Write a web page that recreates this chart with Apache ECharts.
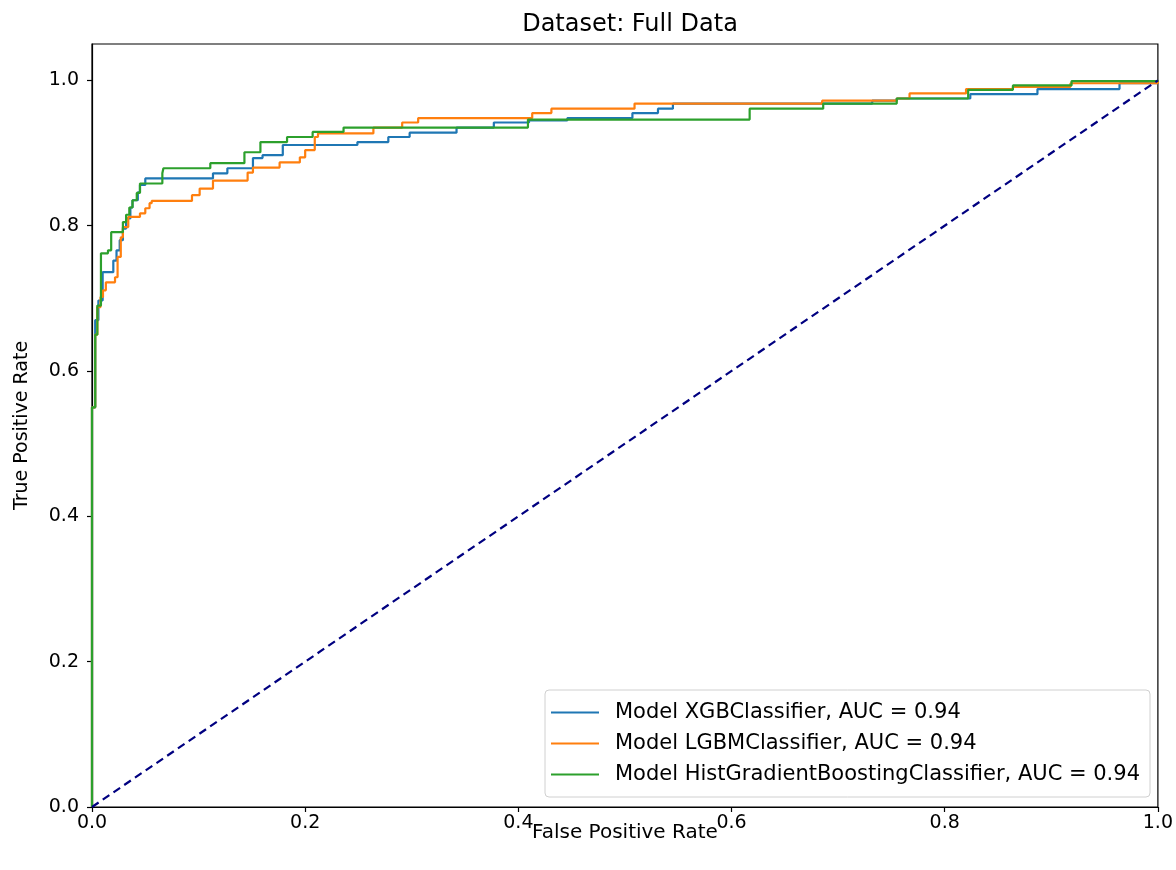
<!DOCTYPE html>
<html>
<head>
<meta charset="utf-8">
<script src="https://cdn.jsdelivr.net/npm/echarts@6/dist/echarts.min.js"></script>
<style>
html,body{margin:0;padding:0;background:#fff;}
#chart{width:1176px;height:870px;}
</style>
</head>
<body>
<div id="chart"></div>
<script>
var chartTitle = 'Dataset: Full Data';
var xAxisName = 'False Positive Rate';
var yAxisName = 'True Positive Rate';
var tickValues = [0, 0.2, 0.4, 0.6, 0.8, 1.0];
var seriesNames = ['Model XGBClassifier, AUC = 0.94', 'Model LGBMClassifier, AUC = 0.94', 'Model HistGradientBoostingClassifier, AUC = 0.94'];

var xgbFpr = [0, 0, 0.003, 0.006, 0.010, 0.020, 0.023, 0.026, 0.029, 0.032, 0.036, 0.038, 0.043, 0.045, 0.050, 0.1135, 0.127, 0.151, 0.160, 0.179, 0.249, 0.278, 0.298, 0.342, 0.377, 0.410, 0.446, 0.507, 0.531, 0.545, 0.732, 0.755, 0.824, 0.887, 0.964, 1.0];
var xgbTpr = [0, 0.55, 0.67, 0.697, 0.736, 0.752, 0.766, 0.780, 0.796, 0.810, 0.825, 0.835, 0.846, 0.856, 0.865, 0.872, 0.879, 0.893, 0.897, 0.911, 0.915, 0.922, 0.928, 0.935, 0.942, 0.945, 0.948, 0.955, 0.961, 0.968, 0.972, 0.975, 0.981, 0.988, 0.996, 1.0];

var lgbmFpr = [0, 0, 0.003, 0.005, 0.008, 0.0103, 0.013, 0.0216, 0.024, 0.027, 0.029, 0.034, 0.045, 0.050, 0.054, 0.056, 0.0938, 0.101, 0.1135, 0.146, 0.151, 0.176, 0.195, 0.200, 0.209, 0.212, 0.264, 0.291, 0.306, 0.413, 0.431, 0.509, 0.685, 0.755, 0.767, 0.820, 0.864, 0.918, 1.0];
var lgbmTpr = [0, 0.55, 0.65, 0.688, 0.702, 0.711, 0.722, 0.729, 0.757, 0.784, 0.798, 0.812, 0.817, 0.824, 0.831, 0.834, 0.842, 0.851, 0.862, 0.873, 0.880, 0.887, 0.894, 0.904, 0.922, 0.927, 0.935, 0.942, 0.948, 0.955, 0.961, 0.968, 0.972, 0.975, 0.982, 0.988, 0.991, 0.996, 1.0];

var histFpr = [0, 0, 0.003, 0.005, 0.0084, 0.015, 0.018, 0.029, 0.032, 0.035, 0.038, 0.042, 0.045, 0.066, 0.067, 0.111, 0.143, 0.158, 0.183, 0.207, 0.236, 0.409, 0.617, 0.686, 0.755, 0.822, 0.864, 0.919, 1.0];
var histTpr = [0, 0.55, 0.65, 0.69, 0.762, 0.766, 0.791, 0.805, 0.815, 0.825, 0.835, 0.845, 0.858, 0.872, 0.879, 0.886, 0.901, 0.915, 0.922, 0.929, 0.935, 0.946, 0.961, 0.968, 0.975, 0.987, 0.993, 0.999, 1.0];

var chanceFpr = [0, 1];
var chanceTpr = [0, 1];

var colors = ['#1f77b4', '#ff7f0e', '#2ca02c'];

function pairs(xs, ys) { return xs.map(function (x, i) { return [x, ys[i]]; }); }

var FONT = 'DejaVu Sans';
var chart = echarts.init(document.getElementById('chart'), null, {renderer: 'canvas'});

function rocSeries(name, xs, ys, color) {
  return {
    name: name, type: 'line', data: pairs(xs, ys), step: 'end',
    showSymbol: false, symbol: 'none',
    lineStyle: {color: color, width: 2.2}, itemStyle: {color: color},
    animation: false, silent: true
  };
}

chart.setOption({
  animation: false,
  backgroundColor: '#ffffff',
  title: {
    text: chartTitle, left: 625, top: 8, textAlign: 'center',
    textStyle: {fontFamily: FONT, fontSize: 24, fontWeight: 'normal', color: '#000'}
  },
  grid: {left: 92, right: 18, top: 44, bottom: 63, show: true, borderColor: '#000', borderWidth: 1.2, backgroundColor: 'transparent'},
  legend: {
    data: seriesNames, orient: 'vertical', right: 26, bottom: 73,
    icon: 'rect', itemWidth: 48, itemHeight: 2, itemGap: 10,
    backgroundColor: '#fff', borderColor: '#d0d0d0', borderWidth: 1, borderRadius: 4,
    padding: [12, 10, 12, 6],
    textStyle: {fontFamily: FONT, fontSize: 21, color: '#000', padding: [0, 0, 0, 11]}
  },
  xAxis: {
    type: 'value', min: 0, max: 1, interval: 0.2,
    name: xAxisName, nameLocation: 'middle', nameGap: 16, nameMoveOverlap: false,
    nameTextStyle: {fontFamily: FONT, fontSize: 20, color: '#000'},
    axisLine: {show: true, onZero: false, lineStyle: {color: '#000', width: 1.2}},
    axisTick: {show: true, inside: false, length: 5, lineStyle: {color: '#000', width: 1.2}, customValues: tickValues},
    axisLabel: {fontFamily: FONT, fontSize: 19, color: '#000', margin: 7, customValues: tickValues,
      formatter: function (v) { return v.toFixed(1); }},
    splitLine: {show: false}
  },
  yAxis: {
    type: 'value', min: 0, max: 1.05, interval: 0.2,
    name: yAxisName, nameLocation: 'middle', nameGap: 60, nameRotate: 90, nameMoveOverlap: false,
    nameTextStyle: {fontFamily: FONT, fontSize: 19, color: '#000'},
    axisLine: {show: true, onZero: false, lineStyle: {color: '#000', width: 1.2}},
    axisTick: {show: true, inside: false, length: 5, lineStyle: {color: '#000', width: 1.2}, customValues: tickValues},
    axisLabel: {fontFamily: FONT, fontSize: 19, color: '#000', margin: 13, customValues: tickValues,
      formatter: function (v) { return Math.abs(v / 0.2 - Math.round(v / 0.2)) < 1e-6 ? v.toFixed(1) : ''; }},
    splitLine: {show: false}
  },
  series: [
    rocSeries(seriesNames[0], xgbFpr, xgbTpr, colors[0]),
    rocSeries(seriesNames[1], lgbmFpr, lgbmTpr, colors[1]),
    rocSeries(seriesNames[2], histFpr, histTpr, colors[2]),
    {
      name: 'chance', type: 'line', data: pairs(chanceFpr, chanceTpr), showSymbol: false, symbol: 'none',
      lineStyle: {color: '#000080', width: 2.2, type: [8, 5]}, silent: true, animation: false
    }
  ]
});
</script>
</body>
</html>
